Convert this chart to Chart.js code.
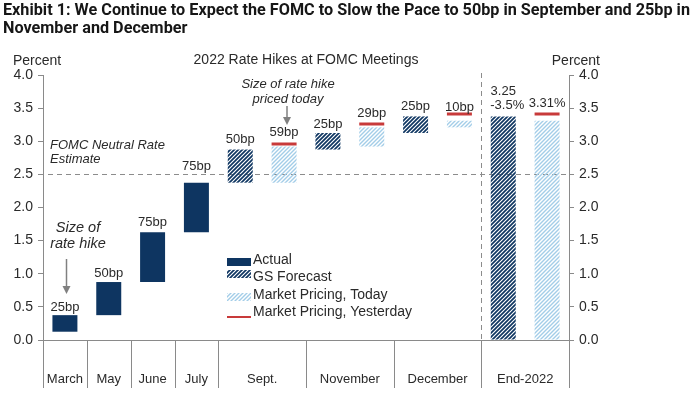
<!DOCTYPE html>
<html>
<head>
<meta charset="utf-8">
<script src="https://cdn.jsdelivr.net/npm/chart.js@4.4.1/dist/chart.umd.min.js"></script>
<style>
  html, body { margin: 0; background: #fff; }
  canvas { display: block; }
</style>
</head>
<body>
<canvas id="chart" width="700" height="394"></canvas>
<script>
// one slot per bar on the category axis
const slots = ['March', 'May', 'June', 'July', 'Sept. GS', 'Sept. Mkt', 'Nov. GS', 'Nov. Mkt', 'Dec. GS', 'Dec. Mkt', 'End GS', 'End Mkt'];
const actual = [[0.125, 0.375], [0.375, 0.875], [0.875, 1.625], [1.625, 2.375], null, null, null, null, null, null, null, null];
const gsForecast = [null, null, null, null, [2.375, 2.875], null, [2.875, 3.125], null, [3.125, 3.375], null, [0, 3.375], null];
const marketToday = [null, null, null, null, null, [2.375, 2.92], null, [2.92, 3.21], null, [3.21, 3.31], null, [0, 3.31]];
const marketYesterday = [null, null, null, null, null, 2.96, null, 3.26, null, 3.41, null, 3.41];
const barLabels = ['25bp', '50bp', '75bp', '75bp', '50bp', '59bp', '25bp', '29bp', '25bp', '10bp', ['3.25', '-3.5%'], '3.31%'];

const groupLabels = ['March', 'May', 'June', 'July', 'Sept.', 'November', 'December', 'End-2022'];
const groupStart = [0, 1, 2, 3, 4, 6, 8, 10];
const groupEnd = [0, 1, 2, 3, 5, 7, 9, 11];

const yMin = 0, yMax = 4, yStep = 0.5;
const neutralRate = 2.5;

const NAVY = '#0e3561';
const LIGHT = '#a3cde8';
const RED = '#c83a3a';
const AXIS = '#8a8a8a';
const TEXT = '#2a2a2a';
const FONT = '"Liberation Sans", Arial, sans-serif';

function hatch(color, width) {
  const s = 4;
  const c = document.createElement('canvas');
  c.width = c.height = s;
  const g = c.getContext('2d');
  g.strokeStyle = color;
  g.lineWidth = width;
  g.beginPath();
  g.moveTo(0, s); g.lineTo(s, 0);
  g.moveTo(-1, 1); g.lineTo(1, -1);
  g.moveTo(s - 1, s + 1); g.lineTo(s + 1, s - 1);
  g.stroke();
  return g.createPattern(c, 'repeat');
}
const gsFill = hatch(NAVY, 1.7);
const mktFill = hatch(LIGHT, 1.4);

function arrow(ctx, x, y0, y1) {
  ctx.save();
  ctx.strokeStyle = '#808080';
  ctx.fillStyle = '#808080';
  ctx.lineWidth = 1.5;
  ctx.beginPath();
  ctx.moveTo(x, y0); ctx.lineTo(x, y1 - 7);
  ctx.stroke();
  ctx.beginPath();
  ctx.moveTo(x - 4, y1 - 8); ctx.lineTo(x + 4, y1 - 8); ctx.lineTo(x, y1);
  ctx.closePath();
  ctx.fill();
  ctx.restore();
}

// pixels between a bar top (or red mark) and its label centre
const labelLift = [8, 9, 10, 16, 10, 11, 9, 11, 10, 7, 11, 11];

const decor = {
  id: 'decor',
  beforeDatasetsDraw(chart) {
    const { ctx, chartArea: a, scales: { x, y } } = chart;
    const half = (x.getPixelForValue(1) - x.getPixelForValue(0)) / 2;
    ctx.save();
    ctx.strokeStyle = '#8c8c8c';
    ctx.lineWidth = 1;
    ctx.setLineDash([5, 4]);
    const yn = Math.round(y.getPixelForValue(neutralRate)) + 0.5;
    ctx.beginPath();
    ctx.moveTo(a.left - 4, yn); ctx.lineTo(a.right, yn);
    ctx.stroke();
    const xv = Math.round(x.getPixelForValue(10) - half) + 0.5;
    ctx.beginPath();
    ctx.moveTo(xv, a.top - 2); ctx.lineTo(xv, a.bottom);
    ctx.stroke();
    ctx.restore();
  },
  afterDraw(chart) {
    const { ctx, chartArea: a, scales: { x, y } } = chart;
    const half = (x.getPixelForValue(1) - x.getPixelForValue(0)) / 2;
    ctx.save();

    // title, squeezed to the width of the original condensed face
    const t1 = 'Exhibit 1: We Continue to Expect the FOMC to Slow the Pace to 50bp in September and 25bp in';
    ctx.fillStyle = '#161616';
    ctx.textBaseline = 'alphabetic';
    ctx.textAlign = 'left';
    ctx.font = 'bold 17px Roboto, "Liberation Sans", sans-serif';
    const k = 687 / ctx.measureText(t1).width;
    ctx.save();
    ctx.translate(3, 0);
    ctx.scale(k, 1);
    ctx.fillText(t1, 0, 15);
    ctx.fillText('November and December', 0, 33);
    ctx.restore();

    // headers
    ctx.fillStyle = TEXT;
    ctx.textBaseline = 'middle';
    ctx.font = '14px ' + FONT;
    ctx.fillText('Percent', 13, 61);
    ctx.textAlign = 'right';
    ctx.fillText('Percent', 600, 61);
    ctx.textAlign = 'center';
    ctx.fillText('2022 Rate Hikes at FOMC Meetings', 306, 60);

    // category separators and group labels
    ctx.strokeStyle = AXIS;
    ctx.lineWidth = 1;
    ctx.beginPath();
    groupStart.forEach(i => {
      const bx = Math.round(x.getPixelForValue(i) - half) + 0.5;
      ctx.moveTo(bx, a.bottom); ctx.lineTo(bx, a.bottom + 48);
    });
    const rx = Math.round(x.getPixelForValue(slots.length - 1) + half) + 0.5;
    ctx.moveTo(rx, a.bottom); ctx.lineTo(rx, a.bottom + 48);
    ctx.stroke();
    ctx.font = '13px ' + FONT;
    groupLabels.forEach((g, j) => {
      const cx = (x.getPixelForValue(groupStart[j]) + x.getPixelForValue(groupEnd[j])) / 2;
      ctx.fillText(g, cx, a.bottom + 39);
    });

    // bar labels
    barLabels.forEach((lab, i) => {
      const tops = [actual[i], gsForecast[i], marketToday[i]].filter(Boolean).map(d => d[1]);
      const anchor = marketYesterday[i] != null ? marketYesterday[i] : Math.max(...tops);
      const cy = y.getPixelForValue(anchor) - labelLift[i];
      const cx = x.getPixelForValue(i);
      if (Array.isArray(lab)) {
        ctx.fillText(lab[0], cx, cy - 14);
        ctx.fillText(lab[1], cx + 4, cy);
      } else {
        ctx.fillText(lab, cx, cy);
      }
    });

    // annotations
    ctx.font = 'italic 13px ' + FONT;
    ctx.textAlign = 'left';
    const yn = y.getPixelForValue(neutralRate);
    ctx.fillText('FOMC Neutral Rate', 50, yn - 29);
    ctx.fillText('Estimate', 50, yn - 15);
    ctx.textAlign = 'center';
    ctx.fillText('Size of rate hike', 288, 84);
    ctx.fillText('priced today', 288, 99);
    arrow(ctx, 287, 106, 125);
    ctx.font = 'italic 14.5px ' + FONT;
    ctx.fillText('Size of', 78, 228);
    ctx.fillText('rate hike', 78, 244);
    arrow(ctx, Math.round(x.getPixelForValue(0)) + 1.5, 259, 294);

    // legend
    const lx = 227, tx = 253;
    const rows = [260, 277, 295, 312];
    const names = ['Actual', 'GS Forecast', 'Market Pricing, Today', 'Market Pricing, Yesterday'];
    ctx.fillStyle = NAVY;
    ctx.fillRect(lx, rows[0] - 2, 24, 8);
    ctx.fillStyle = gsFill;
    ctx.fillRect(lx, rows[1] - 7, 24, 8);
    ctx.fillStyle = mktFill;
    ctx.fillRect(lx, rows[2] - 2, 24, 8);
    ctx.strokeStyle = RED;
    ctx.lineWidth = 2;
    ctx.beginPath();
    ctx.moveTo(lx, rows[3] + 5); ctx.lineTo(lx + 24, rows[3] + 5);
    ctx.stroke();
    ctx.fillStyle = TEXT;
    ctx.font = '14px ' + FONT;
    ctx.textAlign = 'left';
    names.forEach((n, j) => ctx.fillText(n, tx, rows[j]));
    ctx.restore();
  }
};

const yAxis = (pos, w) => ({
  position: pos,
  min: yMin,
  max: yMax,
  ticks: {
    stepSize: yStep,
    callback: v => v.toFixed(1),
    color: TEXT,
    font: { size: 14, family: FONT },
    padding: 5
  },
  grid: { drawOnChartArea: false, color: AXIS, tickLength: 5 },
  border: { color: AXIS },
  afterFit: s => { s.width = w; }
});

const barCommon = { grouped: false, barPercentage: 0.57, categoryPercentage: 1, borderWidth: 0 };

new Chart(document.getElementById('chart'), {
  type: 'bar',
  data: {
    labels: slots,
    datasets: [
      { label: 'Actual', data: actual, backgroundColor: NAVY, ...barCommon },
      { label: 'GS Forecast', data: gsForecast, backgroundColor: gsFill, ...barCommon },
      { label: 'Market Pricing, Today', data: marketToday, backgroundColor: mktFill, ...barCommon },
      {
        type: 'line', label: 'Market Pricing, Yesterday', data: marketYesterday,
        showLine: false, pointStyle: 'line', pointRadius: 12.5,
        pointBorderWidth: 3, borderColor: RED, pointBorderColor: RED
      }
    ]
  },
  options: {
    responsive: false,
    animation: false,
    devicePixelRatio: 1,
    events: [],
    layout: { padding: { top: 75, left: 0, right: 0, bottom: 0 } },
    plugins: { legend: { display: false }, tooltip: { enabled: false } },
    scales: {
      x: {
        grid: { display: false },
        border: { color: AXIS },
        ticks: { display: false },
        afterFit: s => { s.height = 54; }
      },
      y: yAxis('left', 43),
      y2: yAxis('right', 131)
    }
  },
  plugins: [decor]
});
</script>
</body>
</html>
